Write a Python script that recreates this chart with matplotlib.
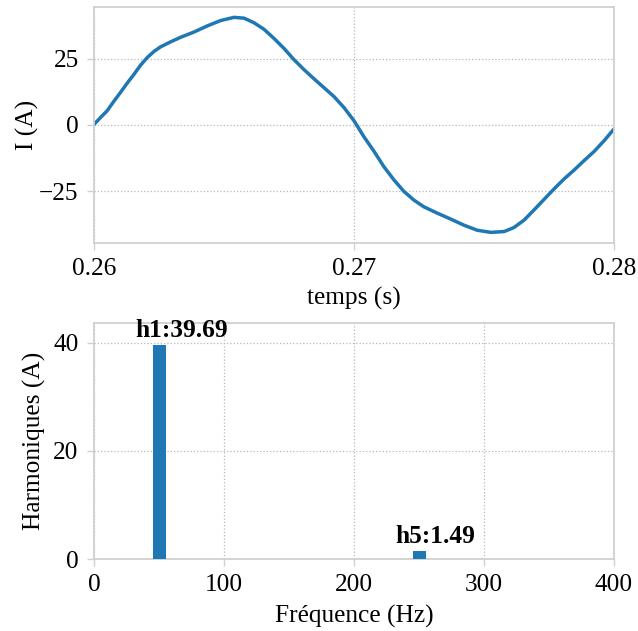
import matplotlib
matplotlib.use("Agg")
import matplotlib.pyplot as plt

# Waveform (time offset in ms from 0.26 s, current in A)
t_ms = [0.00, 0.26, 0.51, 0.77, 1.03, 1.28, 1.54, 1.79, 2.05, 2.31, 2.56, 2.95,
        3.33, 3.85, 4.36, 4.87, 5.38, 5.77, 6.15, 6.54, 6.92, 7.31, 7.69, 8.08,
        8.46, 8.85, 9.23, 9.62, 10.00, 10.38, 10.77, 11.15, 11.54, 11.92, 12.31,
        12.69, 13.21, 13.72, 14.23, 14.74, 15.26, 15.77, 16.15, 16.54, 16.92,
        17.31, 17.69, 18.08, 18.46, 18.85, 19.23, 19.62, 20.00]
current = [0.2, 2.9, 5.4, 9.0, 12.4, 15.8, 19.1, 22.5, 25.4, 27.7, 29.4, 31.3,
           33.0, 35.0, 37.3, 39.3, 40.5, 40.2, 38.5, 36.0, 32.6, 28.8, 24.6, 20.8,
           17.4, 14.0, 10.7, 6.5, 1.6, -4.4, -9.9, -15.7, -20.7, -25.0, -28.3,
           -30.8, -33.2, -35.4, -37.7, -39.6, -40.4, -40.1, -38.6, -35.8, -32.0,
           -28.0, -24.1, -20.3, -17.0, -13.4, -10.0, -5.9, -1.5]
time_s = [0.26 + v / 1000.0 for v in t_ms]

# Harmonic spectrum
harm_freq = [50, 250]
harm_amp = [39.69, 1.49]
harm_labels = ["h1:39.69", "h5:1.49"]

top_xticks = [0.26, 0.27, 0.28]
top_xticklabels = ["0.26", "0.27", "0.28"]
top_yticks = [-25, 0, 25]
top_yticklabels = ["\u221225", "0", "25"]
bot_xticks = [0, 100, 200, 300, 400]
bot_yticks = [0, 20, 40]

plt.rcParams['font.family'] = ['Liberation Serif', 'DejaVu Serif']
plt.rcParams['font.size'] = 18

blue = '#1f77b4'
spine_c = '#d0d0d0'
grid_c = '#b8b8b8'

fig = plt.figure(figsize=(6.38, 6.31), dpi=100)
ax1 = fig.add_axes([94/638, 1-243/631, 520/638, 236/631])
ax2 = fig.add_axes([94/638, 1-559/631, 520/638, 236/631])

def style(ax):
    for s in ax.spines.values():
        s.set_color(spine_c)
        s.set_linewidth(1.3)
    ax.tick_params(axis='both', colors=spine_c, labelcolor='black', length=5,
                   width=1.0, labelsize=18.3, direction='out', pad=6)
    ax.grid(True, linestyle=':', color=grid_c, linewidth=0.9)
    ax.set_axisbelow(True)

ax1.plot(time_s, current, color=blue, linewidth=2.5,
         solid_joinstyle='round', solid_capstyle='round')
ax1.set_xlim(0.26, 0.28)
ax1.set_ylim(-44.4, 44.4)
ax1.set_xticks(top_xticks)
ax1.set_xticklabels(top_xticklabels)
ax1.set_yticks(top_yticks)
ax1.set_yticklabels(top_yticklabels)
ax1.set_xlabel("temps (s)", fontsize=18.3, labelpad=4.5)
ax1.set_ylabel("I (A)", fontsize=18.3, labelpad=0)
style(ax1)

ax2.bar(harm_freq, harm_amp, width=10, color=blue, zorder=3)
for f, a, lab in zip(harm_freq, harm_amp, harm_labels):
    ax2.text(f - 18.5, a + 1.5, lab, ha='left', va='baseline',
             fontsize=18.3, fontweight='bold')
ax2.set_xlim(0, 400)
ax2.set_ylim(0, 43.7)
ax2.set_xticks(bot_xticks)
ax2.set_yticks(bot_yticks)
ax2.set_xlabel("Fréquence (Hz)", fontsize=18.3, labelpad=6.5)
ax2.set_ylabel("Harmoniques (A)", fontsize=18.3, labelpad=5)
style(ax2)

fig.savefig("out.png", dpi=100)
